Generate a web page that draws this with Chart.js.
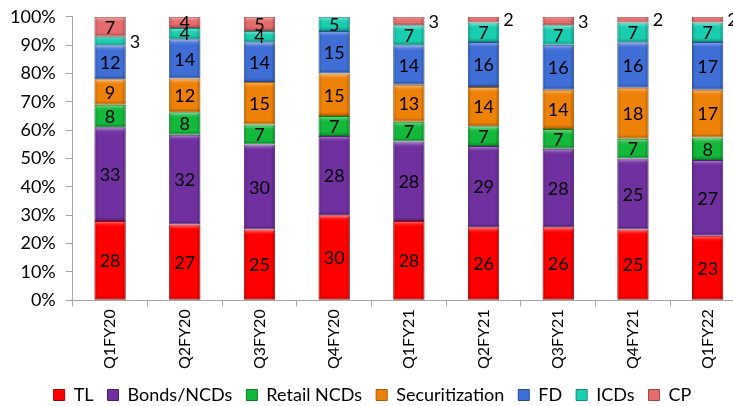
<!DOCTYPE html>
<html>
<head>
<meta charset="utf-8">
<script src="https://cdn.jsdelivr.net/npm/chart.js@4"></script>
<style>
html,body{margin:0;padding:0;background:#fff;overflow:hidden;}
#wrap{width:745px;height:418px;position:relative;margin-top:-4px;}
</style>
</head>
<body>
<div id="wrap"><canvas id="c"></canvas></div>
<script>
const categories = ["Q1FY20","Q2FY20","Q3FY20","Q4FY20","Q1FY21","Q2FY21","Q3FY21","Q4FY21","Q1FY22"];
const seriesNames = ["TL","Bonds/NCDs","Retail NCDs","Securitization","FD","ICDs","CP"];
const TL            = [28,27,25,30,28,26,26,25,23];
const BondsNCDs     = [33,32,30,28,28,29,28,25,27];
const RetailNCDs    = [8,8,7,7,7,7,7,7,8];
const Securitization= [9,12,15,15,13,14,14,18,17];
const FD            = [12,14,14,15,14,16,16,16,17];
const ICDs          = [3,4,4,5,7,7,7,7,7];
const CP            = [7,4,5,0,3,2,3,2,2];
const yTicks = [0,10,20,30,40,50,60,70,80,90,100];

const seriesValues = [TL,BondsNCDs,RetailNCDs,Securitization,FD,ICDs,CP];
const colors  = ["#FF0000","#7030A0","#13B93A","#EE8208","#3F6FD6","#19CDB0","#E46C6C"];
const borders = ["#A80000","#4A1C70","#0B7A25","#A85A05","#2A4C96","#0E8C78","#A04444"];

const totals = categories.map((_, i) => seriesValues.reduce((s, arr) => s + arr[i], 0));
const FONT = "Lato, 'Open Sans', sans-serif";

const datasets = seriesNames.map((name, k) => ({
  label: name,
  data: seriesValues[k].map((v, i) => v / totals[i] * 100),
  raw: seriesValues[k],
  backgroundColor: colors[k],
  borderColor: borders[k],
  borderWidth: 1,
  borderSkipped: false,
  categoryPercentage: 1,
  barPercentage: 0.42
}));

const bevelAndLabels = {
  id: 'bevelAndLabels',
  afterDatasetsDraw(chart) {
    const ctx = chart.ctx;
    chart.data.datasets.forEach((ds, di) => {
      const meta = chart.getDatasetMeta(di);
      meta.data.forEach((bar, i) => {
        const v = ds.raw[i];
        if (!v) return;
        const { x, y, base, width } = bar.getProps(['x','y','base','width'], true);
        const left = x - width/2, right = x + width/2;
        const top = Math.min(y, base), bot = Math.max(y, base);
        const h = bot - top;
        const b = Math.min(4, h/3);
        ctx.save();
        let g = ctx.createLinearGradient(0, top, 0, top + b);
        g.addColorStop(0, 'rgba(255,255,255,0.45)');
        g.addColorStop(1, 'rgba(255,255,255,0.05)');
        ctx.fillStyle = g; ctx.fillRect(left+1, top+1, width-2, b);
        g = ctx.createLinearGradient(0, bot - b, 0, bot);
        g.addColorStop(0, 'rgba(0,0,0,0.0)');
        g.addColorStop(1, 'rgba(0,0,0,0.3)');
        ctx.fillStyle = g; ctx.fillRect(left+1, bot-b-1, width-2, b);
        g = ctx.createLinearGradient(left, 0, left + 4, 0);
        g.addColorStop(0, 'rgba(0,0,0,0.18)');
        g.addColorStop(1, 'rgba(0,0,0,0)');
        ctx.fillStyle = g; ctx.fillRect(left+1, top+1, 4, h-2);
        g = ctx.createLinearGradient(right - 4, 0, right, 0);
        g.addColorStop(0, 'rgba(0,0,0,0)');
        g.addColorStop(1, 'rgba(0,0,0,0.28)');
        ctx.fillStyle = g; ctx.fillRect(right-5, top+1, 4, h-2);
        ctx.restore();

        ctx.save();
        ctx.fillStyle = '#000';
        ctx.font = '18px ' + FONT;
        ctx.textBaseline = 'middle';
        const cy = (top + bot) / 2 + 1;
        if (v <= 3) {
          ctx.textAlign = 'left';
          ctx.fillText(String(v), right + 4, cy);
        } else {
          ctx.textAlign = 'center';
          ctx.fillText(String(v), x, cy);
        }
        ctx.restore();
      });
    });
  }
};

new Chart(document.getElementById('c'), {
  type: 'bar',
  data: { labels: categories, datasets },
  options: {
    responsive: true,
    maintainAspectRatio: false,
    animation: false,
    layout: { padding: { top: 0, left: 0, right: 0, bottom: 0 } },
    plugins: {
      tooltip: { enabled: false },
      legend: {
        position: 'bottom',
        labels: {
          color: '#000',
          font: { family: FONT, size: 18 },
          boxWidth: 11,
          boxHeight: 11,
          padding: 14,
          generateLabels(chart) {
            return chart.data.datasets.map((d, i) => ({
              text: d.label, fillStyle: colors[i], strokeStyle: borders[i],
              lineWidth: 1, datasetIndex: i, fontColor: '#000'
            }));
          }
        }
      }
    },
    scales: {
      x: {
        stacked: true,
        grid: { display: true, drawOnChartArea: false, offset: true, tickLength: 6, color: '#A6A6A6' },
        border: { color: '#A6A6A6', width: 1 },
        ticks: { color: '#000', font: { family: FONT, size: 16 }, minRotation: 90, maxRotation: 90, padding: 3 }
      },
      y: {
        stacked: true,
        min: 0, max: 100,
        afterBuildTicks(axis) { axis.ticks = yTicks.map(v => ({ value: v })); },
        grid: { display: true, drawOnChartArea: false, tickLength: 7, color: '#A6A6A6' },
        border: { color: '#A6A6A6', width: 1 },
        ticks: { color: '#000', font: { family: FONT, size: 18 }, padding: 10, callback: v => v + '%' }
      }
    }
  },
  plugins: [bevelAndLabels]
});
</script>
</body>
</html>
